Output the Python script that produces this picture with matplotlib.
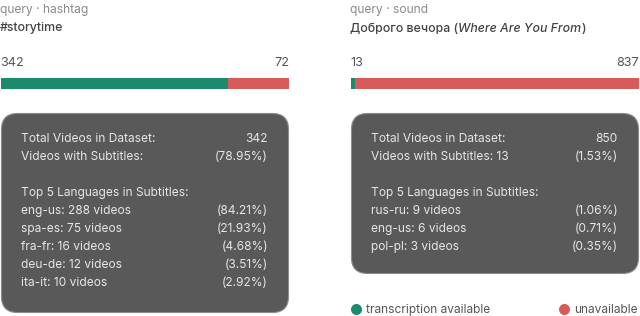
import matplotlib
matplotlib.use("Agg")
import matplotlib.pyplot as plt
from matplotlib.patches import FancyBboxPatch

plt.rcParams['font.family'] = ['Inter', 'DejaVu Sans']

# ---- data ----
query_types = ["hashtag", "sound"]
query_titles = ["#storytime", "Доброго вечора (Where Are You From)"]
available = [270, 13]
unavailable = [72, 837]
left_labels = ["342", "13"]
right_labels = ["72", "837"]
total_videos = ["342", "850"]
subtitle_count = ["", "13"]
subtitle_pct = ["(78.95%)", "(1.53%)"]
lang_names = [["eng-us: 288 videos", "spa-es: 75 videos", "fra-fr: 16 videos",
               "deu-de: 12 videos", "ita-it: 10 videos"],
              ["rus-ru: 9 videos", "eng-us: 6 videos", "pol-pl: 3 videos"]]
lang_pcts = [["(84.21%)", "(21.93%)", "(4.68%)", "(3.51%)", "(2.92%)"],
             ["(1.06%)", "(0.71%)", "(0.35%)"]]
legend_labels = ["transcription available", "unavailable"]

GREEN = "#1b8a6d"
RED = "#d65c5c"
W, H = 640, 316

fig = plt.figure(figsize=(6.4, 3.16), dpi=100)
ax = fig.add_axes([0, 0, 1, 1])
ax.set_xlim(0, W)
ax.set_ylim(H, 0)
ax.axis("off")

panel_x = [1, 351]
panel_w = 288
box_bottom = [313, 274]
OFF = 1.5  # visual centering offset

for i in range(2):
    x0 = panel_x[i]
    ax.text(x0 - 1, 8 + OFF, f"query · {query_types[i]}", color="#8a8a8a", fontsize=8.7,
            va="center", ha="left")
    tkw = dict(color="#444444", fontsize=8.9, va="center", ha="left", fontweight="medium")
    if i == 0:
        ax.text(x0 - 1, 27 + OFF, query_titles[i], **tkw)
    else:
        t1 = ax.text(x0 - 1, 27 + OFF, "Доброго вечора (", **tkw)
        t2 = ax.annotate("Where Are You From", xycoords=t1, xy=(1, 0.5),
                         style="italic", **tkw)
        ax.annotate(")", xycoords=t2, xy=(1, 0.5), **tkw)
    ax.text(x0 - 1, 61 + OFF, left_labels[i], color="#555555", fontsize=9.1,
            va="center", ha="left")
    ax.text(x0 + panel_w, 61 + OFF, right_labels[i], color="#555555", fontsize=9.1,
            va="center", ha="right")

    # stacked bar
    bax = fig.add_axes([x0 / W, 1 - 89 / H, panel_w / W, 11 / H])
    bax.barh(0, available[i], height=1, color=GREEN)
    bax.barh(0, unavailable[i], left=available[i], height=1, color=RED)
    bax.set_xlim(0, available[i] + unavailable[i])
    bax.set_ylim(-0.5, 0.5)
    bax.axis("off")

    # box
    top = 113
    box = FancyBboxPatch((x0 + 0.5, top + 0.5), panel_w - 1, box_bottom[i] - top - 1,
                         boxstyle="round,pad=0,rounding_size=16",
                         facecolor="#595959", edgecolor="#8c8c8c", linewidth=0.8)
    ax.add_patch(box)

    tx = x0 + 20
    rx = x0 + 267
    tc = "#e6e6e6"
    fs = 8.6
    y = 137 + OFF
    dy = 18.1
    ax.text(tx, y, "Total Videos in Dataset:", color=tc, fontsize=fs, va="center")
    ax.text(rx, y, total_videos[i], color=tc, fontsize=fs, va="center", ha="right")
    y += dy
    lab = "Videos with Subtitles:" + (" " + subtitle_count[i] if subtitle_count[i] else "")
    ax.text(tx, y, lab, color=tc, fontsize=fs, va="center")
    ax.text(rx, y, subtitle_pct[i], color=tc, fontsize=fs, va="center", ha="right")
    y += 2 * dy
    ax.text(tx, y, "Top 5 Languages in Subtitles:", color=tc, fontsize=fs, va="center")
    for name, pct in zip(lang_names[i], lang_pcts[i]):
        y += dy
        ax.text(tx, y, name, color=tc, fontsize=fs, va="center")
        ax.text(rx, y, pct, color=tc, fontsize=fs, va="center", ha="right")

# legend
ax.scatter([356], [309], s=48, color=GREEN, zorder=3)
ax.text(366, 309 + 1, legend_labels[0], color="#555555", fontsize=8.6, va="center")
ax.scatter([564], [309], s=48, color=RED, zorder=3)
ax.text(638, 309 + 1, legend_labels[1], color="#555555", fontsize=8.6, va="center", ha="right")

fig.savefig("out.png", dpi=100)
